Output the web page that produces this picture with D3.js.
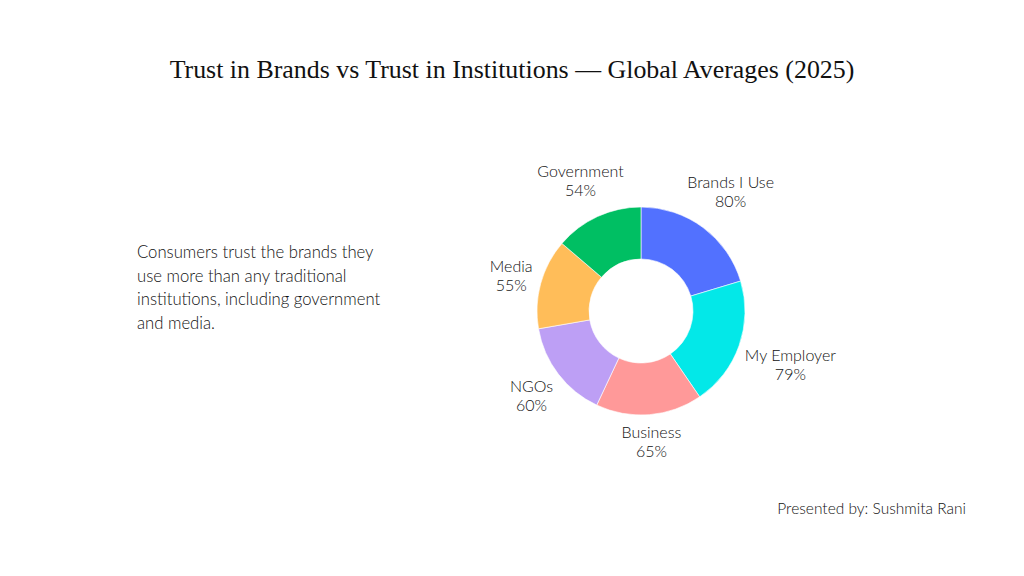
<!DOCTYPE html>
<html>
<head>
<meta charset="utf-8">
<script src="https://cdn.jsdelivr.net/npm/d3@7"></script>
<style>
  html, body { margin: 0; padding: 0; background: #fff; }
  svg { display: block; }
</style>
</head>
<body>
<div id="viz"></div>
<script>
(function() {
  'use strict';

  // data
  var categories = ['Brands I Use', 'My Employer', 'Business', 'NGOs', 'Media', 'Government'];
  var values = [80, 79, 65, 60, 55, 54];
  var colours = ['#5271ff', '#03e8e8', '#ff9999', '#bd9ff5', '#ffbd59', '#00bf63'];
  var note = ['Consumers trust the brands they', 'use more than any traditional',
    'institutions, including government', 'and media.'];

  var W = 1024, H = 576;
  var cx = 641, cy = 311, outer = 104, inner = 52;
  var sans = 'Lato, "Noto Sans", sans-serif';
  var ink = '#111';

  var svg = d3.select('#viz').append('svg')
    .attr('width', W)
    .attr('height', H);

  svg.append('text')
    .attr('x', 512).attr('y', 78)
    .attr('text-anchor', 'middle')
    .style('font-family', '"Liberation Serif", "DejaVu Serif", serif')
    .style('font-size', '25.9px')
    .style('fill', '#111')
    .text('Trust in Brands vs Trust in Institutions \u2014 Global Averages (2025)');

  svg.append('g').selectAll('text')
    .data(note)
    .enter().append('text')
    .attr('x', 137)
    .attr('y', function(d, i) { return 258 + i * 23.5; })
    .style('font-family', sans)
    .style('font-size', '16.7px')
    .style('font-weight', 300)
    .style('fill', ink)
    .text(function(d) { return d; });

  svg.append('text')
    .attr('x', 966).attr('y', 514)
    .attr('text-anchor', 'end')
    .style('font-family', sans)
    .style('font-size', '15.5px')
    .style('font-weight', 300)
    .style('fill', ink)
    .text('Presented by: Sushmita Rani');

  var rows = categories.map(function(c, i) { return { name: c, value: values[i], colour: colours[i] }; });

  var pie = d3.pie().sort(null).value(function(d) { return d.value; });
  var arc = d3.arc().innerRadius(inner).outerRadius(outer);
  var arcs = pie(rows);

  var chart = svg.append('g').attr('transform', 'translate(' + cx + ',' + cy + ')');

  chart.selectAll('path')
    .data(arcs)
    .enter().append('path')
    .attr('d', arc)
    .attr('fill', function(d) { return d.data.colour; })
    .attr('stroke', '#fff')
    .attr('stroke-width', 0.6);

  var labels = chart.selectAll('g.lab')
    .data(arcs)
    .enter().append('g')
    .attr('class', 'lab');

  labels.append('text')
    .attr('text-anchor', 'middle')
    .attr('y', -4)
    .style('font-family', sans)
    .style('font-size', '16px')
    .style('font-weight', 300)
    .style('fill', ink)
    .text(function(d) { return d.data.name; });

  labels.append('text')
    .attr('text-anchor', 'middle')
    .attr('y', 15)
    .style('font-family', sans)
    .style('font-size', '16px')
    .style('font-weight', 300)
    .style('fill', ink)
    .text(function(d) { return d.data.value + '%'; });

  // push each label out so its box clears the ring by a small gap
  labels.attr('transform', function(d) {
    var box = this.getBBox();
    var a = (d.startAngle + d.endAngle) / 2;
    var s = Math.sin(a), c = Math.cos(a);
    var r = outer + 5 + (box.width / 2) * Math.abs(s) + (box.height / 2) * Math.abs(c);
    var x = r * s, y = -r * c - (box.y + box.height / 2);
    return 'translate(' + x + ',' + y + ')';
  });
})();
</script>
</body>
</html>
